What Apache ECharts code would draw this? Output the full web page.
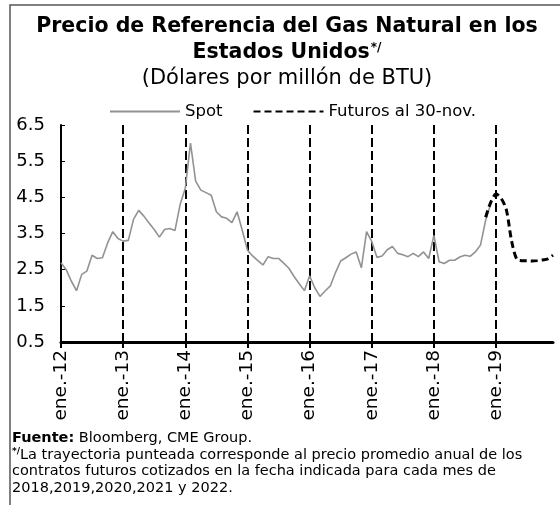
<!DOCTYPE html>
<html lang="es">
<head>
    <meta charset="UTF-8">
    <title>Precio de Referencia del Gas Natural</title>
    <script src="https://cdn.jsdelivr.net/npm/echarts@6/dist/echarts.min.js"></script>
    <style>
        body { margin: 0; background: #fff; }
        #chart { width: 560px; height: 505px; }
    </style>
</head>
<body>
    <div id="chart"></div>
    <script>
        // datos
        const years = ['12', '13', '14', '15', '16', '17', '18', '19'];
        const months = ['ene.', 'feb.', 'mar.', 'abr.', 'may.', 'jun.', 'jul.', 'ago.', 'sep.', 'oct.', 'nov.', 'dic.'];
        const categories = [];
        years.forEach(y => months.forEach(m => categories.push(m + '-' + y)));

        // Spot, mensual ene-12 a dic-18
        const spot = [
            2.69, 2.50, 2.18, 1.92, 2.37, 2.46, 2.90, 2.81, 2.83, 3.24, 3.55, 3.36,
            3.29, 3.31, 3.89, 4.14, 3.98, 3.79, 3.61, 3.40, 3.61, 3.64, 3.58, 4.30,
            4.75, 6.00, 4.95, 4.70, 4.63, 4.56, 4.10, 3.96, 3.92, 3.80, 4.10, 3.59,
            3.04, 2.88, 2.75, 2.63, 2.86, 2.81, 2.81, 2.68, 2.54, 2.31, 2.11, 1.92,
            2.33, 2.00, 1.76, 1.91, 2.05, 2.42, 2.74, 2.83, 2.93, 2.99, 2.55, 3.55,
            3.28, 2.84, 2.88, 3.05, 3.14, 2.95, 2.91, 2.86, 2.95, 2.86, 2.99, 2.81,
            3.45, 2.72, 2.67, 2.76, 2.76, 2.85, 2.90, 2.87, 2.99, 3.18, 3.87, 4.33
        ];
        // Futuros, desde nov-18
        const futuresStart = 82;
        const futures = [3.95, 4.37, 4.59, 4.47, 4.15, 3.30, 2.79, 2.75, 2.75, 2.74, 2.75, 2.77, 2.80, 2.90];

        const futuresData = categories.map((c, i) =>
            i >= futuresStart ? futures[i - futuresStart] : null);

        const isJan = i => i % 12 === 0;
        const font = 'DejaVu Sans';

        const chart = echarts.init(document.getElementById('chart'));
        chart.setOption({
            animation: false,
            textStyle: { fontFamily: font },
            legend: {
                top: 98,
                left: 104,
                itemWidth: 70,
                itemHeight: 10,
                itemGap: 30,
                itemStyle: { opacity: 0 },
                textStyle: { fontFamily: font, fontSize: 16.5, color: '#000' },
                data: ['Spot', 'Futuros al 30-nov.']
            },
            grid: { left: 61, right: 7, top: 125, bottom: 163 },
            xAxis: {
                type: 'category',
                data: categories,
                boundaryGap: false,
                axisLine: { lineStyle: { color: '#000', width: 3 } },
                axisTick: { interval: isJan, length: 6, lineStyle: { color: '#000', width: 2 } },
                axisLabel: {
                    interval: isJan,
                    rotate: 90,
                    margin: 8,
                    fontFamily: font,
                    fontSize: 18.5,
                    color: '#000'
                },
                splitLine: {
                    show: true,
                    interval: isJan,
                    lineStyle: { color: '#000', width: 2, type: [9, 4] }
                }
            },
            yAxis: {
                type: 'value',
                min: 0.5,
                max: 6.5,
                interval: 1,
                axisLine: { show: true, lineStyle: { color: '#000', width: 2 } },
                axisTick: { show: true, inside: true, length: 4, lineStyle: { color: '#000' } },
                axisLabel: {
                    margin: 16,
                    fontFamily: font,
                    fontSize: 18,
                    color: '#000',
                    formatter: v => v.toFixed(1)
                },
                splitLine: { show: false }
            },
            graphic: [
                {
                    type: 'polyline',
                    shape: { points: [[10, 505], [10, 5], [560, 5]] },
                    style: { stroke: '#555', lineWidth: 1.5, fill: null }
                },
                {
                    type: 'text',
                    x: 287,
                    y: 27,
                    style: {
                        text: 'Precio de Referencia del Gas Natural en los',
                        font: 'bold 20.5px "DejaVu Sans"',
                        fill: '#000',
                        align: 'center',
                        verticalAlign: 'middle'
                    }
                },
                {
                    type: 'text',
                    x: 287,
                    y: 53,
                    style: {
                        text: '{b|Estados Unidos}{s|*/}',
                        fill: '#000',
                        align: 'center',
                        verticalAlign: 'middle',
                        rich: {
                            b: { font: 'bold 20.5px "DejaVu Sans"', fill: '#000' },
                            s: { font: 'bold 12px "DejaVu Sans"', fill: '#000', padding: [0, 0, 10, 1] }
                        }
                    }
                },
                {
                    type: 'text',
                    x: 287,
                    y: 79,
                    style: {
                        text: '(Dólares por millón de BTU)',
                        font: '21px "DejaVu Sans"',
                        fill: '#000',
                        align: 'center',
                        verticalAlign: 'middle'
                    }
                },
                {
                    type: 'text',
                    left: 12,
                    top: 430,
                    style: {
                        text: '{b|Fuente:} Bloomberg, CME Group.\n{s|*/}La trayectoria punteada corresponde al precio promedio anual de los\ncontratos futuros cotizados en la fecha indicada para cada mes de\n2018,2019,2020,2021 y 2022.',
                        font: '14.5px "DejaVu Sans"',
                        lineHeight: 16.5,
                        fill: '#000',
                        rich: {
                            b: { font: 'bold 14.5px "DejaVu Sans"', fill: '#000', lineHeight: 16.5 },
                            s: { font: 'bold 9px "DejaVu Sans"', fill: '#000', padding: [0, 0, 6, 0] }
                        }
                    }
                }
            ],
            series: [
                {
                    name: 'Spot',
                    type: 'line',
                    data: spot,
                    symbol: 'none',
                    lineStyle: { color: '#929292', width: 1.6 },
                    itemStyle: { color: '#929292' },
                    z: 3
                },
                {
                    name: 'Futuros al 30-nov.',
                    type: 'line',
                    data: futuresData,
                    symbol: 'none',
                    smooth: 0.3,
                    lineStyle: { color: '#000', width: 3, type: [7, 4] },
                    itemStyle: { color: '#000' },
                    z: 4
                }
            ]
        });
    </script>
</body>
</html>
